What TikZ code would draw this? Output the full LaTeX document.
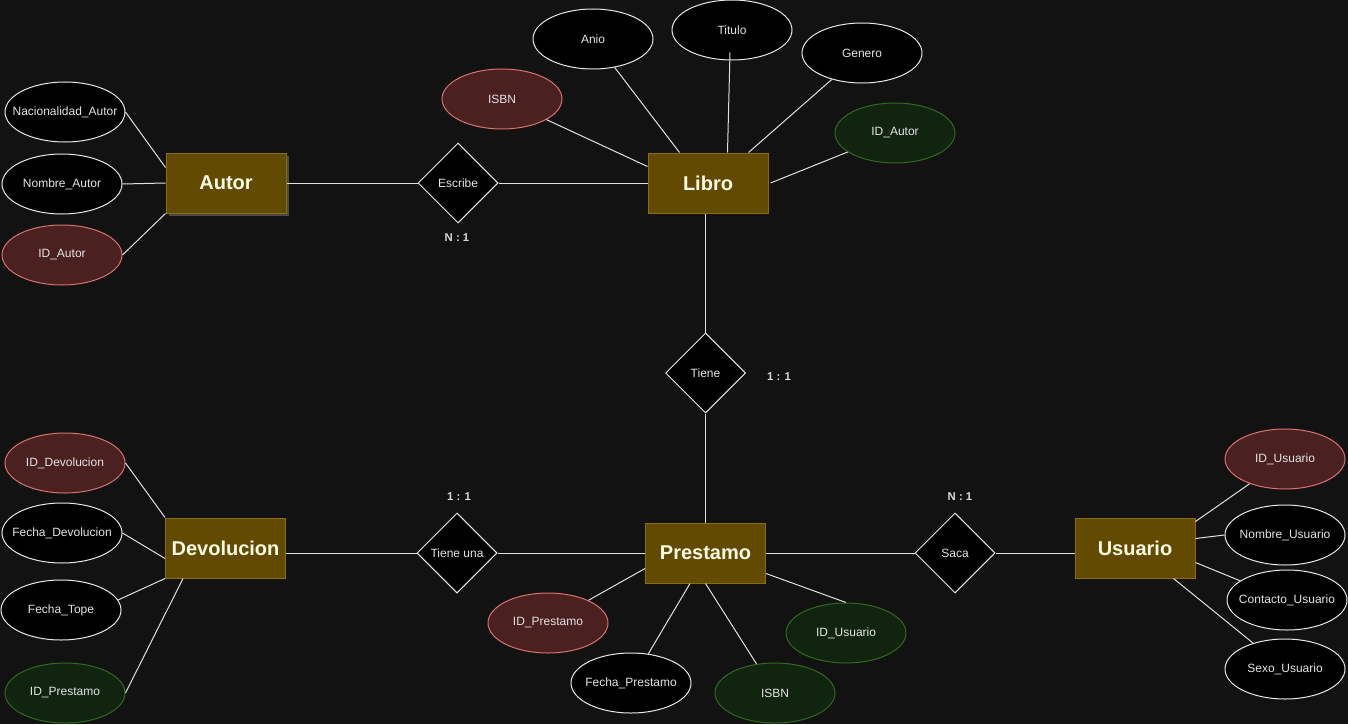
\documentclass[tikz,border=0pt]{standalone}
\usepackage{fontspec}
\setmainfont{Liberation Sans}
\usetikzlibrary{shapes.geometric,calc}
\definecolor{bg}{HTML}{121212}
\definecolor{entfill}{HTML}{624A00}
\definecolor{entstroke}{HTML}{8A6F00}
\definecolor{titletext}{HTML}{FFFBE6}
\definecolor{attrtext}{HTML}{E4E4E4}
\definecolor{attrstroke}{HTML}{E8E8E8}
\definecolor{pkfill}{HTML}{4A2020}
\definecolor{pkstroke}{HTML}{D9716C}
\definecolor{fkfill}{HTML}{10240F}
\definecolor{fkstroke}{HTML}{2F6B1A}
\definecolor{linecol}{HTML}{E0E0E0}
\definecolor{cardtext}{HTML}{D8D8D8}
\definecolor{shadowcol}{HTML}{4A4A4A}
\newcommand{\zw}[1]{\makebox[0pt][c]{#1}}
\begin{document}
\begin{tikzpicture}[x=0.75pt,y=-0.75pt,
  entity/.style={rectangle, draw=entstroke, fill=entfill, minimum width=90pt, minimum height=45pt,
    inner sep=0pt, line width=0.75pt, text=titletext, font=\fontsize{15}{18}\selectfont\bfseries},
  shadowbox/.style={rectangle, fill=shadowcol, minimum width=90pt, minimum height=45pt, inner sep=0pt},
  attr/.style={ellipse, draw=attrstroke, fill=black, minimum width=90pt, minimum height=45pt,
    inner sep=0pt, line width=0.75pt, text=attrtext, font=\fontsize{9}{11}\selectfont},
  pk/.style={attr, draw=pkstroke, fill=pkfill},
  fk/.style={attr, draw=fkstroke, fill=fkfill},
  rel/.style={diamond, draw=attrstroke, fill=black, minimum width=60pt, minimum height=60pt,
    inner sep=0pt, line width=0.75pt, text=attrtext, font=\fontsize{9}{11}\selectfont},
  card/.style={text=cardtext, inner sep=0pt, font=\fontsize{8.5}{10}\selectfont\bfseries},
  link/.style={draw=linecol, line width=0.75pt}
]
\fill[bg] (0,0) rectangle (1348,724);
\useasboundingbox (0,0) rectangle (1348,724);

% entities
\node[shadowbox] (autorshadow) at (229,186) {};
\node[entity] (autor) at (226,183) {Autor};
\node[entity] (libro) at (708,183) {Libro};
\node[entity] (prestamo) at (705.5,553) {Prestamo};
\node[entity] (devol) at (225.5,548) {Devolucion};
\node[entity] (usuario) at (1135,548) {Usuario};

% relations
\node[rel] (escribe) at (458,183) {\zw{Escribe}};
\node[rel] (tiene) at (705.5,373) {\zw{Tiene}};
\node[rel] (tieneuna) at (457,553) {\zw{Tiene una}};
\node[rel] (saca) at (955,553) {\zw{Saca}};

% cardinalities
\node[card] (c1) at (457,238) {N : 1};
\node[card] (c2) at (779,377) {1 : 1};
\node[card] (c3) at (459,497) {1 : 1};
\node[card] (c4) at (960,497) {N : 1};

% Autor attributes
\node[attr] (nac) at (65,112) {\zw{Nacionalidad\_Autor}};
\node[attr] (nomA) at (62,184) {\zw{Nombre\_Autor}};
\node[pk] (idA) at (62,255) {\zw{ID\_Autor}};

% Libro attributes
\node[pk] (isbnL) at (502,99) {\zw{ISBN}};
\node[attr] (anio) at (593,39) {\zw{Anio}};
\node[attr] (titulo) at (732,30) {\zw{Titulo}};
\node[attr] (genero) at (862,53) {\zw{Genero}};
\node[fk] (idAL) at (895,133) {\zw{ID\_Autor}};

% Devolucion attributes
\node[pk] (idD) at (65,463) {\zw{ID\_Devolucion}};
\node[attr] (fechaD) at (62,533) {\zw{Fecha\_Devolucion}};
\node[attr] (fechaT) at (61,610) {\zw{Fecha\_Tope}};
\node[fk] (idPD) at (65,693) {\zw{ID\_Prestamo}};

% Prestamo attributes
\node[pk] (idP) at (548,623) {\zw{ID\_Prestamo}};
\node[attr] (fechaP) at (631,683) {\zw{Fecha\_Prestamo}};
\node[fk] (isbnP) at (775,693) {\zw{ISBN}};
\node[fk] (idUP) at (846,633) {\zw{ID\_Usuario}};

% Usuario attributes
\node[pk] (idU) at (1285,459) {\zw{ID\_Usuario}};
\node[attr] (nomU) at (1285,535) {\zw{Nombre\_Usuario}};
\node[attr] (contU) at (1287,600) {\zw{Contacto\_Usuario}};
\node[attr] (sexU) at (1285,669) {\zw{Sexo\_Usuario}};

% relationship links
\draw[link] (autor.east) -- (escribe.west);
\draw[link] (escribe.east) -- (libro.west);
\draw[link] (tiene.north) -- (tiene.north |- libro.south);
\draw[link] (tiene.south) -- (tiene.south |- prestamo.north);
\draw[link] (prestamo.west) -- (tieneuna.east);
\draw[link] (tieneuna.west) -- (tieneuna.west -| devol.east);
\draw[link] (prestamo.east) -- (saca.west);
\draw[link] (saca.east) -- (saca.east -| usuario.west);

% Autor attribute links
\draw[link] (nac.east) -- ($(autor.north west)+(0,15)$);
\draw[link] (nomA.east) -- (autor.west);
\draw[link] (idA.east) -- (autor.south west);

% Libro attribute links
\draw[link] (isbnL) -- ($(libro.north west)+(0,14)$);
\draw[link] (anio) -- ($(libro.north west)+(32,0)$);
\draw[link] ($(titulo.south)+(-2,-8)$) -- ($(libro.north west)+(80,0)$);
\draw[link] (genero) -- ($(libro.north west)+(101,0)$);
\draw[link] (idAL) -- ($(libro.east)+(2,0)$);

% Devolucion attribute links
\draw[link] (idD.east) -- (devol.north west);
\draw[link] (fechaD.east) -- ($(devol.south west)+(0,-20)$);
\draw[link] (fechaT.10) -- (devol.south west);
\draw[link] (idPD.east) -- ($(devol.south west)+(18,0)$);

% Prestamo attribute links
\draw[link] (idP) -- ($(prestamo.south west)+(0,-15)$);
\draw[link] (fechaP) -- ($(prestamo.south west)+(45,0)$);
\draw[link] (isbnP) -- (prestamo.south);
\draw[link] (idUP.north) -- ($(prestamo.south east)+(0,-10)$);

% Usuario attribute links
\draw[link] (idU) -- ($(usuario.north east)+(0,4)$);
\draw[link] (nomU.west) -- ($(usuario.north east)+(0,21)$);
\draw[link] (contU) -- ($(usuario.south east)+(0,-16)$);
\draw[link] (sexU) -- ($(usuario.south east)+(-22,0)$);
\end{tikzpicture}
\end{document}
